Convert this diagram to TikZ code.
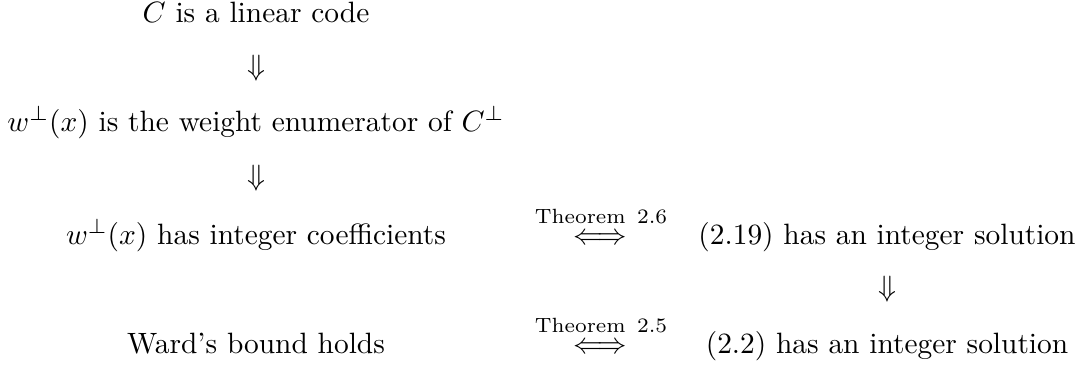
\documentclass[tikz,border=0pt]{standalone}
\usepackage{amsmath}
\begin{document}
\begin{tikzpicture}[x=0.34pt,y=-0.34pt,
  every node/.style={inner sep=0pt, anchor=base},
  stmt/.style={},
  impl/.style={},
  equiv/.style={},
  thmlabel/.style={font=\scriptsize}]
\useasboundingbox (0,0) rectangle (1085,364);
% left column
\node[stmt] (lin)   at (256,22)  {$C$ is a linear code};
\node[impl] (d1)    at (256,75)  {$\Downarrow$};
\node[stmt] (wenum) at (256,131) {$w^{\perp}(x)$ is the weight enumerator of $C^{\perp}$};
\node[impl] (d2)    at (256,185) {$\Downarrow$};
\node[stmt] (wint)  at (256,244) {$w^{\perp}(x)$ has integer coefficients};
\node[stmt] (ward)  at (256,353) {Ward's bound holds};
% middle column
\node[equiv] (e26)  at (600,244) {$\Longleftrightarrow$};
\node[thmlabel] (t26) at (601,223) {Theorem\ \,2.6};
\node[equiv] (e25)  at (600,353) {$\Longleftrightarrow$};
\node[thmlabel] (t25) at (601,332) {Theorem\ \,2.5};
% right column
\node[stmt] (s219)  at (887,244) {(2.19) has an integer solution};
\node[impl] (d3)    at (887,296) {$\Downarrow$};
\node[stmt] (s22)   at (887,353) {(2.2) has an integer solution};
\end{tikzpicture}
\end{document}
